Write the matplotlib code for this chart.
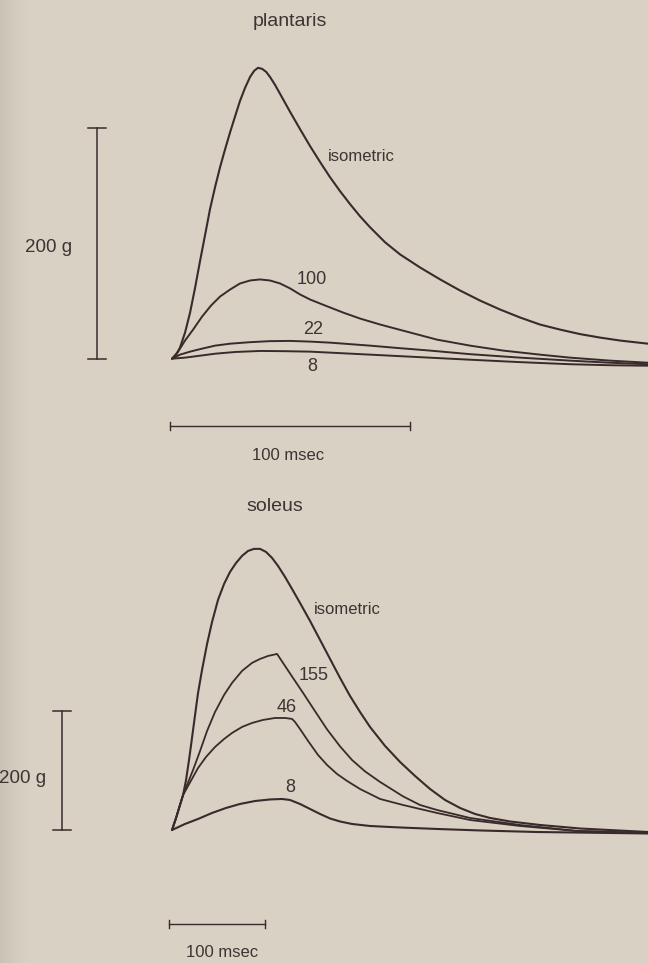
import matplotlib
matplotlib.use("Agg")
import matplotlib.pyplot as plt
import numpy as np

plt.rcParams['font.family'] = ['Liberation Sans', 'DejaVu Sans']

BG = '#d9d1c3'
INK = '#3a2a2c'
TXT = '#3d3434'

# plantaris twitches: time (msec) / tension (g)
pl_iso_t = [0, 1.7, 3.3, 5.4, 7.5, 9.6, 11.7, 13.8, 15.8, 17.9, 20, 22.1, 24.2, 26.3, 28.3,
            30.4, 32.5, 34.2, 35.8, 37.5, 39.2, 40.8, 42.9, 45, 49.2, 53.3, 57.5, 61.7,
            65.8, 70, 74.2, 78.3, 82.5, 88.75, 95, 103.3, 111.7, 120, 128.3, 136.7, 145,
            153.3, 161.7, 170, 178.3, 186.7, 198.3]
pl_iso_f = [0, 3.5, 9.6, 22.6, 40, 61.7, 85.2, 107.8, 129.6, 148.7, 166.1, 181.7, 196.5,
            210.4, 223.5, 234.8, 244.3, 249.6, 252.2, 251.3, 248.7, 244.3, 237.4, 229.6,
            213.9, 199.1, 184.3, 170.4, 157.4, 145.2, 133.9, 123.5, 113.9, 100.9, 90.4,
            79.1, 68.7, 59.1, 50.4, 42.6, 35.7, 29.6, 25.2, 21.3, 18.3, 15.7, 13]
pl_100_t = [0, 2.5, 5.4, 8.75, 12.5, 16.25, 20, 24.2, 28.3, 32.5, 36.7, 40.8, 45, 49.2,
            53.3, 57.5, 63.75, 71.25, 78.3, 86.7, 96.25, 110.4, 124.2, 138, 153.3, 165.8,
            182.5, 198.3]
pl_100_f = [0, 6.1, 15.7, 25.2, 36.5, 46.1, 53.9, 60, 65.2, 67.8, 68.7, 67.8, 65.2, 60.9,
            55.7, 51.3, 46.1, 40, 34.8, 29.6, 24.3, 16.5, 11.3, 7, 3.5, 0.9, -1.7, -3.5]
pl_22_t = [0, 3.3, 7.5, 11.7, 17.9, 24.2, 32.5, 40.8, 49.2, 57.5, 65.8, 74.2, 82.5, 95,
           107.5, 124.2, 145, 165.8, 182.5, 198.3]
pl_22_f = [0, 3.5, 6.1, 8.3, 11.3, 13, 14.3, 15.2, 15.4, 14.8, 13.9, 12.6, 11.3, 9.1, 7,
           3.9, 0.9, -1.7, -3.5, -4.8]
pl_8_t = [0, 5.4, 11.7, 17.9, 26.3, 36.7, 47.1, 57.5, 70, 82.5, 103.3, 124.2, 145, 165.8,
          182.5, 198.3]
pl_8_f = [0, 0.9, 2.6, 4.3, 5.8, 6.7, 6.5, 6.1, 4.8, 3.5, 1.3, -0.9, -3, -4.8, -5.7, -6.1]

# soleus twitches
so_iso_t = [0, 4.2, 8.3, 11.5, 14.6, 17.7, 20.8, 24, 27.1, 31.25, 36.5, 41.7, 47.9, 54.2,
            60.4, 66.7, 72.9, 79.2, 85.4, 91.7, 97.9, 104.2, 110.4, 117.7, 125, 133.3,
            143.75, 154.2, 164.6, 175, 185.4, 195.8, 206.25, 221.9, 237.5, 253.1, 268.75,
            284.4, 300, 315.6, 331.25, 352.1, 383.3, 425, 495.8]
so_iso_f = [0, 20.2, 42, 58.8, 84, 117.6, 154.6, 193.3, 230.3, 268.9, 312.6, 349.6, 386.6,
            413.4, 433.6, 448.7, 460.5, 468.9, 472.3, 472.3, 467.2, 457.1, 443.7, 425.2,
            405, 381.5, 351.3, 319.3, 287.4, 255.5, 225.2, 198.3, 173.1, 141.2, 114.3, 90.8,
            68.9, 50.4, 37, 26.9, 20.2, 14.3, 8.4, 2.5, -3.4]
so_155_t = [0, 4.2, 8.3, 11.5, 15.6, 21.9, 29.2, 36.5, 44.8, 54.2, 62.5, 72.9, 83.3, 91.7,
            100, 109.4, 115.6, 126, 136.5, 149, 161.5, 175, 187.5, 201, 216.7, 240.6, 258.3,
            276, 310.4, 362.5, 421.9, 495.8]
so_155_f = [0, 20.2, 42, 58.8, 75.6, 100.8, 132.8, 166.4, 198.3, 226.9, 247.1, 267.2, 280.7,
            287.4, 292.4, 295.8, 280.7, 255.5, 230.3, 199.5, 169, 140.5, 117.6, 98.5, 80.7,
            56.5, 42, 33.6, 20.2, 8.4, -1.7, -5]
so_46_t = [0, 4.2, 8.3, 11.5, 16.7, 21.9, 27.1, 35.4, 44.8, 54.2, 62.5, 72.9, 83.3, 94.8,
           107.3, 117.7, 125, 128.1, 133.3, 141.7, 152.1, 161.5, 171.9, 182.3, 195.8, 216.7,
           240.6, 276, 310.4, 362.5, 421.9, 495.8]
so_46_f = [0, 20.2, 42, 58.8, 73.9, 89.1, 104.2, 122.7, 139.5, 152.9, 163, 173.1, 179.8,
           184.9, 188.2, 188.2, 186.6, 181.5, 169.7, 149.6, 126, 109.2, 94.1, 82.4, 68.9,
           52.1, 42, 28.6, 16.8, 6.7, -1.7, -5]
so_8_t = [0, 13.5, 27.1, 41.7, 56.25, 70.8, 86.5, 102.1, 114.6, 122.9, 133.3, 143.75, 154.2,
          164.6, 175, 187.5, 206.25, 237.5, 276, 320.8, 380.2, 495.8]
so_8_f = [0, 10.1, 18.5, 28.6, 37, 43.7, 48.7, 51.3, 52.1, 50.4, 43.7, 35.3, 26.9, 19.3,
          14.3, 10.1, 6.7, 4.2, 1.7, -0.8, -3.4, -5.9]

fig = plt.figure(figsize=(6.48, 9.63), dpi=100, facecolor=BG)

# darker strip along the left edge of the page
bg = fig.add_axes([0, 0, 0.05, 1], zorder=0)
shade = np.zeros((2, 64, 4))
shade[..., 0] = 165 / 255
shade[..., 1] = 160 / 255
shade[..., 2] = 150 / 255
shade[..., 3] = np.linspace(0.45, 0, 64) ** 1.5
bg.imshow(shade, aspect='auto', extent=[0, 1, 0, 1])
bg.set_axis_off()

top = fig.add_axes([0, 480 / 963, 1, 483 / 963], zorder=1)
bot = fig.add_axes([0, 0, 1, 480 / 963], zorder=1)
for ax in (top, bot):
    ax.set_axis_off()
    ax.patch.set_alpha(0)

curve = dict(color=INK, solid_joinstyle='round', solid_capstyle='round')

# ---- plantaris ----
top.set_xlim(-71.7, 198.3)
top.set_ylim(-107.8, 311)
top.plot(pl_iso_t, pl_iso_f, lw=1.5, **curve)
top.plot(pl_100_t, pl_100_f, lw=1.4, **curve)
top.plot(pl_22_t, pl_22_f, lw=1.4, **curve)
top.plot(pl_8_t, pl_8_f, lw=1.4, **curve)

top.plot([-31.25, -31.25], [0, 200], color=INK, lw=1.1)
top.plot([-35, -27.5], [0, 0], color=INK, lw=1.1)
top.plot([-35, -27.5], [200, 200], color=INK, lw=1.1)
top.text(-41.5, 96, "200 g", ha='right', va='center', fontsize=13.5, color=TXT)

top.plot([-1, 99], [-58, -58], color=INK, lw=1.0)
top.plot([-1, -1], [-61.5, -54.5], color=INK, lw=1.0)
top.plot([99, 99], [-61.5, -54.5], color=INK, lw=1.0)
top.text(48.5, -84, "100 msec", ha='center', va='center', fontsize=12, color=TXT)

top.text(49, 292, "plantaris", ha='center', va='center', fontsize=14, color=TXT)
top.text(65, 175, "isometric", ha='left', va='center', fontsize=12, color=TXT)
top.text(58.3, 68.5, "100", ha='center', va='center', fontsize=13, color=TXT)
top.text(58.8, 25, "22", ha='center', va='center', fontsize=13, color=TXT)
top.text(58.3, -6.5, "8", ha='center', va='center', fontsize=13, color=TXT)

# ---- soleus ----
bot.set_xlim(-179.2, 495.8)
bot.set_ylim(-223.5, 583)
bot.plot(so_iso_t, so_iso_f, lw=1.5, **curve)
bot.plot(so_155_t, so_155_f, lw=1.3, **curve)
bot.plot(so_46_t, so_46_f, lw=1.3, **curve)
bot.plot(so_8_t, so_8_f, lw=1.5, **curve)

bot.plot([-114.6, -114.6], [0, 200], color=INK, lw=1.1)
bot.plot([-123.5, -105.7], [0, 0], color=INK, lw=1.1)
bot.plot([-123.5, -105.7], [200, 200], color=INK, lw=1.1)
bot.text(-131, 87, "200 g", ha='right', va='center', fontsize=13.5, color=TXT)

bot.plot([-3, 97], [-158, -158], color=INK, lw=1.0)
bot.plot([-3, -3], [-164.5, -151.5], color=INK, lw=1.0)
bot.plot([97, 97], [-164.5, -151.5], color=INK, lw=1.0)
bot.text(52, -206, "100 msec", ha='center', va='center', fontsize=12, color=TXT)

bot.text(107.3, 543, "soleus", ha='center', va='center', fontsize=14, color=TXT)
bot.text(148, 371, "isometric", ha='left', va='center', fontsize=12, color=TXT)
bot.text(148, 260, "155", ha='center', va='center', fontsize=13, color=TXT)
bot.text(119.8, 205, "46", ha='center', va='center', fontsize=13, color=TXT)
bot.text(122.9, 71, "8", ha='center', va='center', fontsize=13, color=TXT)

fig.savefig("out.png", dpi=100, facecolor=BG)
